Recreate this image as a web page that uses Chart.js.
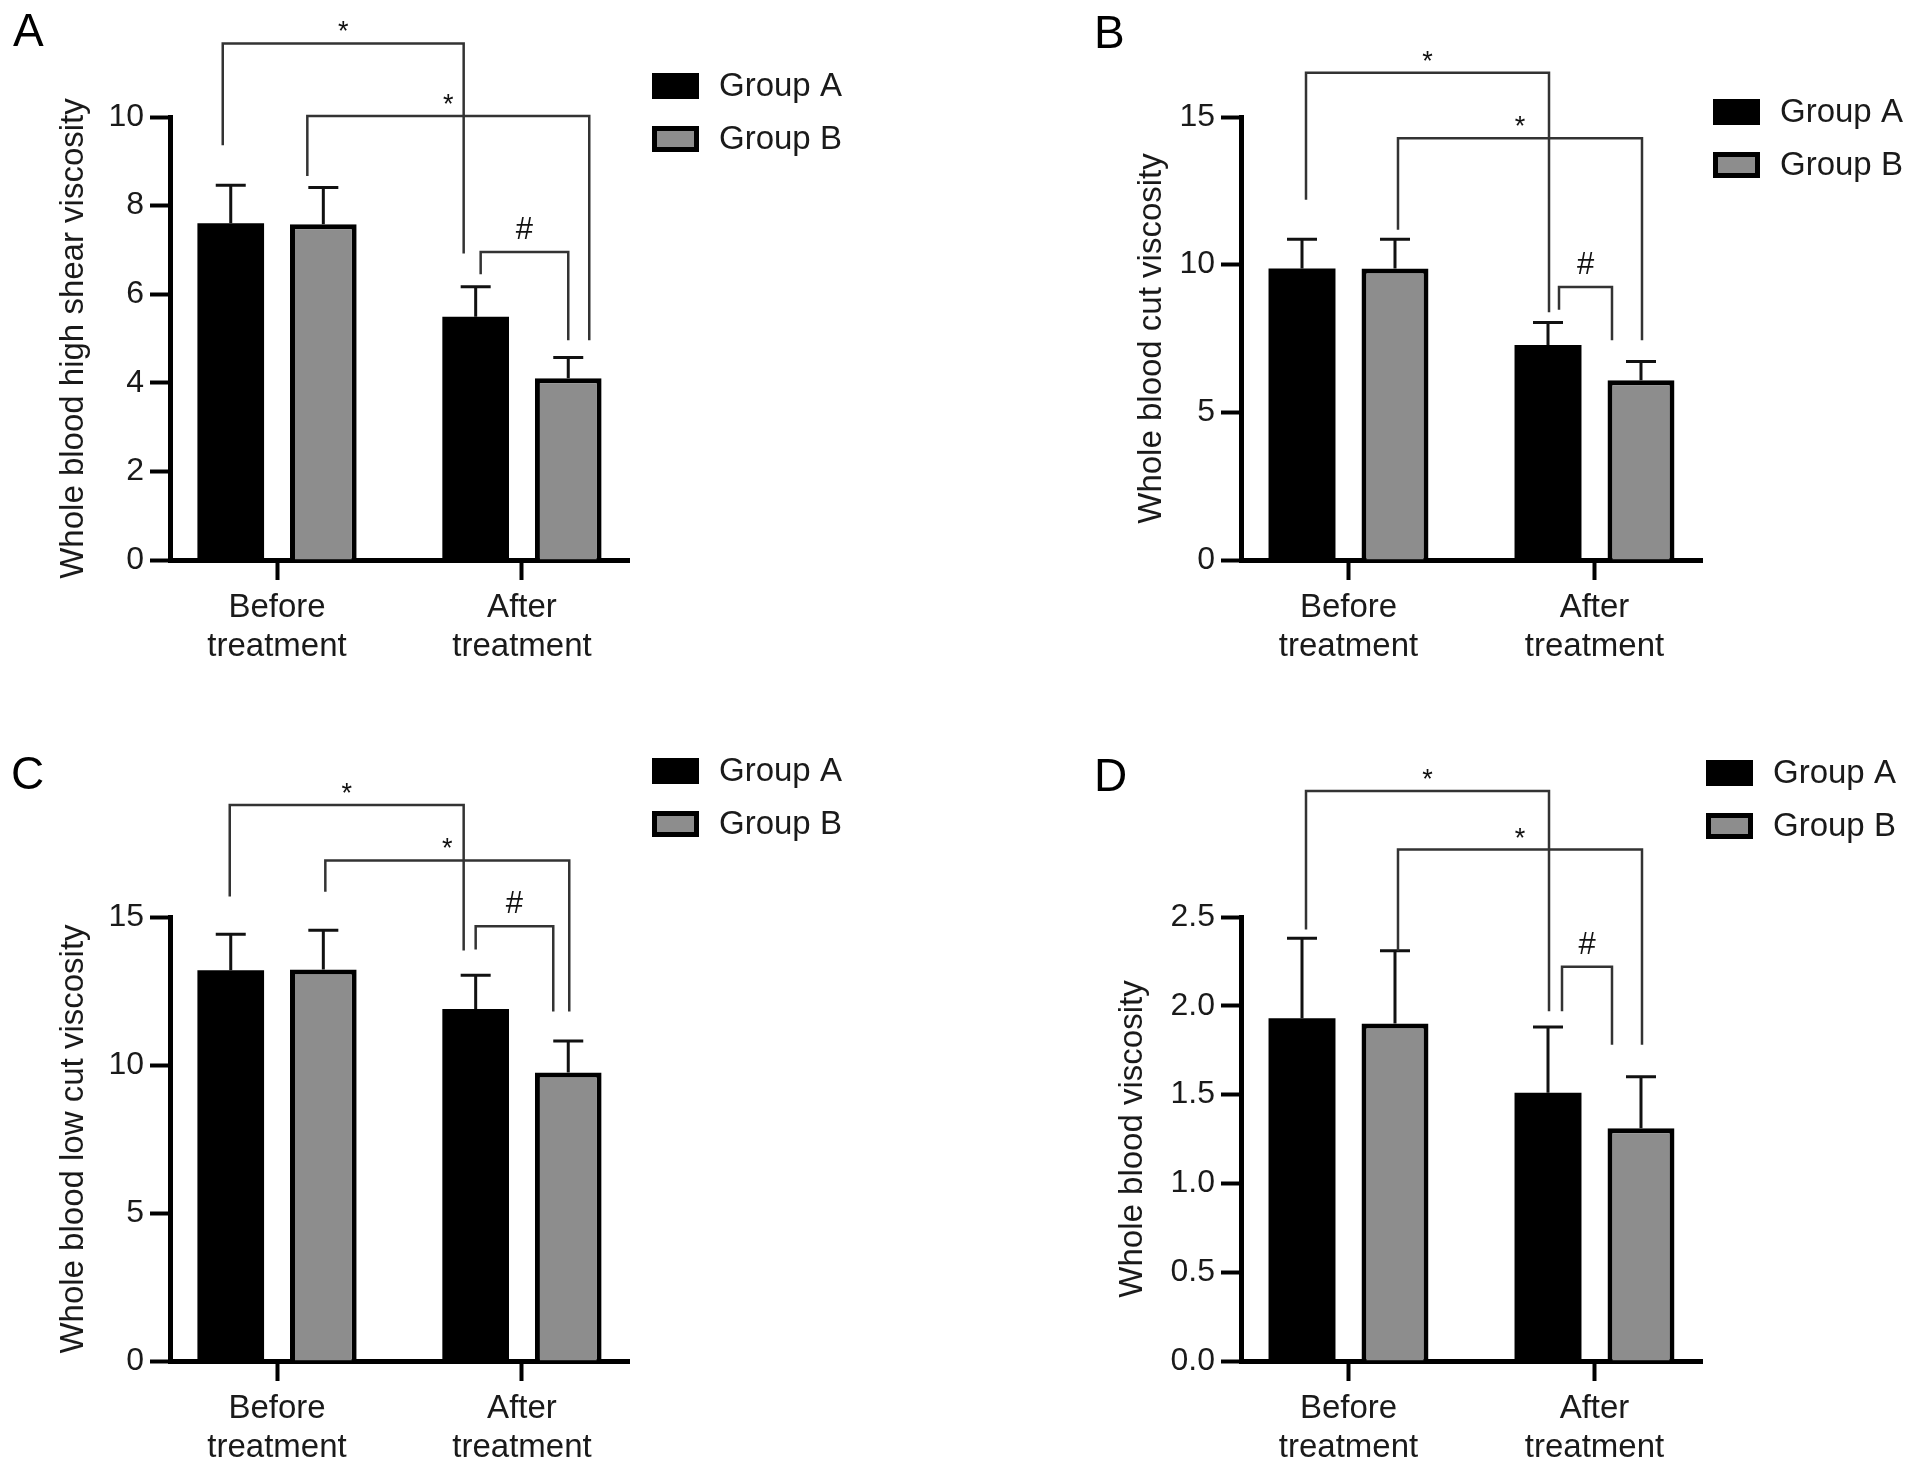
<!DOCTYPE html>
<html>
<head>
<meta charset="utf-8">
<title>Whole blood viscosity</title>
<script src="https://cdn.jsdelivr.net/npm/chart.js@4.4.1/dist/chart.umd.min.js"></script>
<style>
  html, body { margin: 0; padding: 0; background: #fff; }
  #page { position: relative; width: 1913px; height: 1473px; overflow: hidden; }
  .panel { position: absolute; }
  .letter { position: absolute; font: 46px 'Liberation Sans', Arial, sans-serif; line-height: 1; color: #000; }
</style>
</head>
<body>
<div id="page">
  <div class="panel" style="left:0;top:0;width:956px;height:672px"><canvas id="cA"></canvas></div>
  <div class="panel" style="left:956px;top:0;width:957px;height:672px"><canvas id="cB"></canvas></div>
  <div class="panel" style="left:0;top:737px;width:956px;height:736px"><canvas id="cC"></canvas></div>
  <div class="panel" style="left:956px;top:737px;width:957px;height:736px"><canvas id="cD"></canvas></div>
  <div class="letter" style="left:13px;top:7px">A</div>
  <div class="letter" style="left:1094px;top:9px">B</div>
  <div class="letter" style="left:11px;top:750px">C</div>
  <div class="letter" style="left:1094px;top:752px">D</div>
</div>
<script>
const FONT = "'Liberation Sans', Arial, Helvetica, sans-serif"

const categories = [['Before', 'treatment'], ['After', 'treatment']]
const groups = ['Group A', 'Group B']
const groupColors = ['#000000', '#8d8d8d']

// A - whole blood high shear viscosity
const highShearA = [7.60, 5.49]
const highShearASd = [0.86, 0.68]
const highShearB = [7.58, 4.10]
const highShearBSd = [0.83, 0.47]
const highShearTicks = [0, 2, 4, 6, 8, 10]

// B - whole blood cut viscosity
const cutA = [9.87, 7.28]
const cutASd = [0.99, 0.76]
const cutB = [9.87, 6.09]
const cutBSd = [0.99, 0.63]
const cutTicks = [0, 5, 10, 15]

// C - whole blood low cut viscosity
const lowCutA = [13.20, 11.89]
const lowCutASd = [1.22, 1.14]
const lowCutB = [13.23, 9.75]
const lowCutBSd = [1.32, 1.06]
const lowCutTicks = [0, 5, 10, 15]

// D - whole blood viscosity
const viscA = [1.93, 1.51]
const viscASd = [0.45, 0.37]
const viscB = [1.90, 1.31]
const viscBSd = [0.41, 0.29]
const viscTicks = [0, 0.5, 1.0, 1.5, 2.0, 2.5]

// significance brackets: from/to = [group, category], y and legs in axis units
const highShearBrackets = [
  { from: [0, 0], to: [0, 1], y: 11.66, legs: [9.36, 6.92], nudge: [-8, -12], mark: '*' },
  { from: [1, 0], to: [1, 1], y: 10.02, legs: [8.67, 4.96], nudge: [-16, 21], mark: '*' },
  { from: [0, 1], to: [1, 1], y: 6.95, legs: [6.45, 4.96], nudge: [5, 0], mark: '#' }
]
const cutBrackets = [
  { from: [0, 0], to: [0, 1], y: 16.50, legs: [12.2, 8.39], nudge: [4, 1], mark: '*' },
  { from: [1, 0], to: [1, 1], y: 14.28, legs: [11.18, 7.44], nudge: [3, 1], mark: '*' },
  { from: [0, 1], to: [1, 1], y: 9.24, legs: [8.47, 7.44], nudge: [11, -29], mark: '#' }
]
const lowCutBrackets = [
  { from: [0, 0], to: [0, 1], y: 18.78, legs: [15.69, 13.87], nudge: [-1, -12], mark: '*' },
  { from: [1, 0], to: [1, 1], y: 16.91, legs: [15.85, 11.81], nudge: [2, 1], mark: '*' },
  { from: [0, 1], to: [1, 1], y: 14.69, legs: [13.9, 11.81], nudge: [0, -15], mark: '#' }
]
const viscBrackets = [
  { from: [0, 0], to: [0, 1], y: 3.21, legs: [2.43, 1.97], nudge: [4, 1], mark: '*' },
  { from: [1, 0], to: [1, 1], y: 2.88, legs: [2.31, 1.78], nudge: [3, 1], mark: '*' },
  { from: [0, 1], to: [1, 1], y: 2.22, legs: [1.97, 1.78], nudge: [14, -29], mark: '#' }
]

const panels = [
  { id: 'cA', box: [0, 0, 956], axisX: 170, plotTop: 117, plotRight: 629, titleX: 74, legend: [652, 73],
    title: 'Whole blood high shear viscosity', ticks: highShearTicks, decimals: 0,
    series: [[highShearA, highShearASd], [highShearB, highShearBSd]], brackets: highShearBrackets },
  { id: 'cB', box: [956, 0, 957], axisX: 1241, plotTop: 117, plotRight: 1702, titleX: 1152, legend: [1713, 99],
    title: 'Whole blood cut viscosity', ticks: cutTicks, decimals: 0,
    series: [[cutA, cutASd], [cutB, cutBSd]], brackets: cutBrackets },
  { id: 'cC', box: [0, 737, 956], axisX: 170, plotTop: 917, plotRight: 629, titleX: 74, legend: [652, 758],
    title: 'Whole blood low cut viscosity', ticks: lowCutTicks, decimals: 0,
    series: [[lowCutA, lowCutASd], [lowCutB, lowCutBSd]], brackets: lowCutBrackets },
  { id: 'cD', box: [956, 737, 957], axisX: 1241, plotTop: 917, plotRight: 1702, titleX: 1133, legend: [1706, 760],
    title: 'Whole blood viscosity', ticks: viscTicks, decimals: 1,
    series: [[viscA, viscASd], [viscB, viscBSd]], brackets: viscBrackets }
]

const errorBars = {
  id: 'errorBars',
  afterDatasetsDraw(chart) {
    const ctx = chart.ctx
    const y = chart.scales.y
    ctx.save()
    ctx.strokeStyle = '#111'
    ctx.lineWidth = 3
    chart.data.datasets.forEach((ds, i) => {
      chart.getDatasetMeta(i).data.forEach((bar, j) => {
        const top = y.getPixelForValue(ds.data[j].y + ds.errors[j])
        ctx.beginPath()
        ctx.moveTo(bar.x, bar.y)
        ctx.lineTo(bar.x, top)
        ctx.moveTo(bar.x - 15, top)
        ctx.lineTo(bar.x + 15, top)
        ctx.stroke()
      })
    })
    ctx.restore()
  }
}

const brackets = {
  id: 'brackets',
  afterDraw(chart, args, opts) {
    const ctx = chart.ctx
    const y = chart.scales.y
    ctx.save()
    ctx.strokeStyle = '#333'
    ctx.lineWidth = 2.5
    ctx.fillStyle = '#111'
    ctx.textAlign = 'center'
    ctx.textBaseline = 'alphabetic'
    opts.items.forEach(b => {
      const xa = chart.getDatasetMeta(b.from[0]).data[b.from[1]].x + b.nudge[0]
      const xb = chart.getDatasetMeta(b.to[0]).data[b.to[1]].x + b.nudge[1]
      const yt = y.getPixelForValue(b.y)
      ctx.beginPath()
      ctx.moveTo(xa, y.getPixelForValue(b.legs[0]))
      ctx.lineTo(xa, yt)
      ctx.lineTo(xb, yt)
      ctx.lineTo(xb, y.getPixelForValue(b.legs[1]))
      ctx.stroke()
      if (b.mark == '*') {
        ctx.font = '27px ' + FONT
        ctx.fillText('*', (xa + xb) / 2, yt - 3)
      } else {
        ctx.font = '31px ' + FONT
        ctx.fillText('#', (xa + xb) / 2, yt - 13)
      }
    })
    ctx.restore()
  }
}

const boxLegend = {
  id: 'boxLegend',
  afterDraw(chart, args, opts) {
    const ctx = chart.ctx
    ctx.save()
    ctx.font = '33px ' + FONT
    ctx.textBaseline = 'middle'
    ctx.textAlign = 'left'
    chart.data.datasets.forEach((ds, i) => {
      const x = opts.x, y = opts.y + i * 53
      ctx.fillStyle = '#000'
      ctx.fillRect(x, y, 47, 26)
      ctx.fillStyle = ds.backgroundColor
      ctx.fillRect(x + 5, y + 5, 37, 16)
      if (ds.backgroundColor == '#000000') ctx.fillRect(x, y, 47, 26)
      ctx.fillStyle = '#1a1a1a'
      ctx.fillText(ds.label, x + 67, y + 14)
    })
    ctx.restore()
  }
}

function makeChart(p) {
  const [left, top, width] = p.box
  const titleLine = 33 * 1.2
  const padLeft = p.titleX - titleLine / 2 - left
  const yWidth = p.axisX - left - padLeft

  new Chart(document.getElementById(p.id), {
    type: 'bar',
    data: {
      datasets: p.series.map(([vals, sd], i) => ({
        label: groups[i],
        data: vals.map((v, k) => ({ x: k, y: v })),
        errors: sd,
        backgroundColor: groupColors[i],
        borderColor: '#000',
        borderWidth: i == 0 ? 0 : 5,
        categoryPercentage: 0.756,
        barPercentage: 0.72
      }))
    },
    options: {
      responsive: true,
      maintainAspectRatio: false,
      animation: false,
      layout: { padding: { left: padLeft, top: p.plotTop - top, right: left + width - p.plotRight, bottom: 0 } },
      plugins: {
        legend: { display: false },
        tooltip: { enabled: false },
        brackets: { items: p.brackets },
        boxLegend: { x: p.legend[0] - left, y: p.legend[1] - top }
      },
      scales: {
        x: {
          type: 'linear',
          offset: false,
          min: -0.437,
          max: 1.437,
          afterBuildTicks: s => { s.ticks = categories.map((c, i) => ({ value: i })) },
          afterFit: s => { s.height = 112 },
          ticks: {
            autoSkip: false,
            maxRotation: 0,
            padding: 8,
            color: '#1a1a1a',
            font: { family: FONT, size: 33, lineHeight: 1.2 },
            callback: (v, i) => categories[i]
          },
          grid: { offset: false, drawOnChartArea: false, tickLength: 20, tickWidth: 4, tickColor: '#000' },
          border: { display: true, color: '#000', width: 5 }
        },
        y: {
          min: 0,
          max: p.ticks[p.ticks.length - 1],
          afterBuildTicks: s => { s.ticks = p.ticks.map(v => ({ value: v })) },
          afterFit: s => { s.width = yWidth },
          ticks: {
            padding: 6,
            color: '#1a1a1a',
            font: { family: FONT, size: 32 },
            callback: v => v.toFixed(p.decimals)
          },
          grid: { drawOnChartArea: false, tickLength: 20, tickWidth: 4, tickColor: '#000' },
          border: { display: true, color: '#000', width: 5 },
          title: {
            display: true,
            text: p.title,
            color: '#1a1a1a',
            padding: 0,
            font: { family: FONT, size: 33, lineHeight: 1.2 }
          }
        }
      }
    },
    plugins: [errorBars, brackets, boxLegend]
  })
}

panels.forEach(makeChart)
</script>
</body>
</html>
